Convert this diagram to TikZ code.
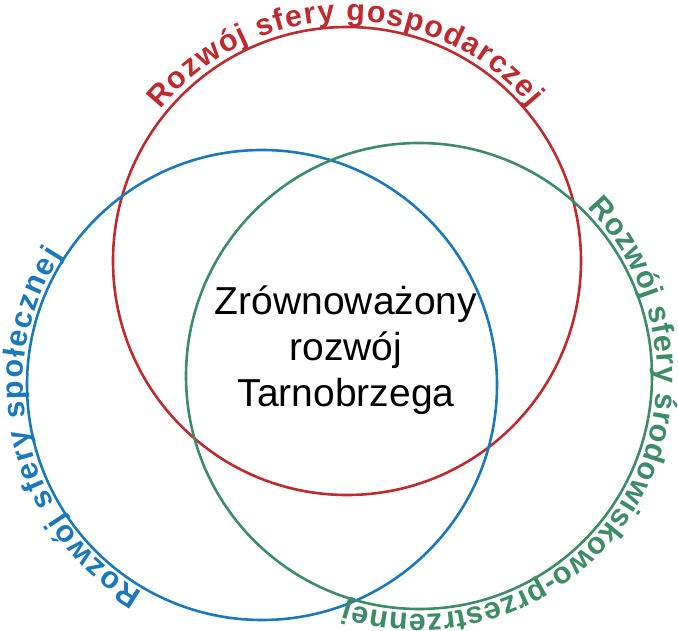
\documentclass[tikz,border=0pt]{standalone}
\usepackage{fontspec}
\setmainfont{Liberation Sans}
\usetikzlibrary{decorations.text}
\definecolor{gospred}{RGB}{190,42,46}
\definecolor{spolblue}{RGB}{27,120,186}
\definecolor{srodgreen}{RGB}{62,140,102}
\newcommand{\ringfont}{\bfseries\fontsize{30.5}{32}\selectfont}
\tikzset{
  ring style/.style={line width=2.6pt, draw=#1},      % circle outline
  ring text/.style={
    decorate,
    decoration={text along path, text align={fit to path}, text color=#1}
  }
}

\begin{document}
\begin{tikzpicture}[x=1pt, y=1pt]
    \useasboundingbox (0,0) rectangle (678,630);
    % Centres of the three spheres
    \coordinate (gosp) at (347,369);
    \coordinate (spol) at (262,245);
    \coordinate (srod) at (419,254);

    % Circles
    \draw[ring style=gospred] (gosp) circle[radius=234pt];
    \draw[ring style=spolblue] (spol) circle[radius=235pt];
    \draw[ring style=srodgreen] (srod) circle[radius=233pt];

    % Labels along the circles
    \path[ring text=gospred, decoration={text={|\ringfont|Rozwój sfery gospodarczej}}]
      ([shift={(141:240pt)}]gosp) arc[start angle=141, end angle=40, radius=240pt];
    \path[ring text=spolblue, decoration={text={|\ringfont|Rozwój sfery społecznej}}]
      ([shift={(240:239pt)}]spol) arc[start angle=240, end angle=147, radius=239pt];
    \path[ring text=srodgreen, decoration={text={|\ringfont|Rozwój sfery środowiskowo-przestrzennej}}]
      ([shift={(45:238pt)}]srod) arc[start angle=45, end angle=-108, radius=238pt];

    % Centre text
    \node[font=\fontsize{39}{46}\selectfont, align=center] (title) at (346,280)
      {Zrównoważony\\rozwój\\Tarnobrzega};
\end{tikzpicture}
\end{document}
